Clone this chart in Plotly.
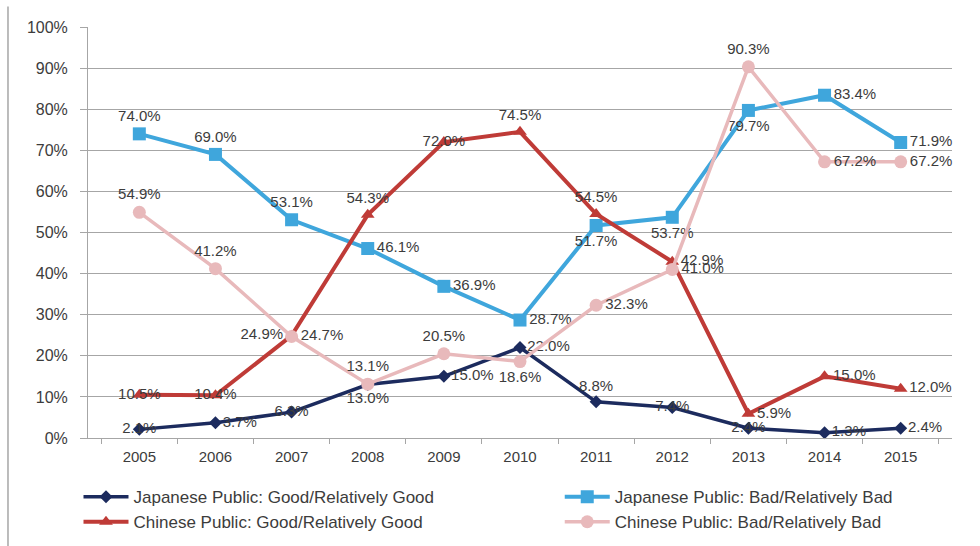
import plotly.graph_objects as go

years = ["2005", "2006", "2007", "2008", "2009", "2010", "2011", "2012", "2013", "2014", "2015"]

jp_good = [2.1, 3.7, 6.3, 13.0, 15.0, 22.0, 8.8, 7.4, 2.4, 1.3, 2.4]
jp_bad = [74.0, 69.0, 53.1, 46.1, 36.9, 28.7, 51.7, 53.7, 79.7, 83.4, 71.9]
cn_good = [10.5, 10.4, 24.9, 54.3, 72.0, 74.5, 54.5, 42.9, 5.9, 15.0, 12.0]
cn_bad = [54.9, 41.2, 24.7, 13.1, 20.5, 18.6, 32.3, 41.0, 90.3, 67.2, 67.2]

names = [
    "Japanese Public: Good/Relatively Good",
    "Japanese Public: Bad/Relatively Bad",
    "Chinese Public: Good/Relatively Good",
    "Chinese Public: Bad/Relatively Bad",
]

# label placement for each point, per series
pos_jp_good = ["middle center", "middle right", "middle center", "bottom center", "middle right",
               "middle right", "top center", "middle center", "middle center", "middle right", "middle right"]
pos_jp_bad = ["top center", "top center", "top center", "middle right", "middle right",
              "middle right", "bottom center", "bottom center", "bottom center", "middle right", "middle right"]
pos_cn_good = ["middle center", "middle center", "middle left", "top center", "middle center",
               "top center", "top center", "middle right", "middle right", "middle right", "middle right"]
pos_cn_bad = ["top center", "top center", "middle right", "top center", "top center",
              "bottom center", "middle right", "middle right", "top center", "middle right", "middle right"]

NAVY = "#1c2b5e"
SKY = "#3fa6dc"
RED = "#bf3b37"
PINK = "#e8b9bb"
TEXT = "#3c3c3c"
GRID = "#a6a6a6"
FONT = "Liberation Sans, Arial, sans-serif"

series = [
    (jp_good, names[0], NAVY, "diamond", 10, pos_jp_good, "legend", 3.5),
    (jp_bad, names[1], SKY, "square", 13, pos_jp_bad, "legend2", 4),
    (cn_good, names[2], RED, "triangle-up", 12, pos_cn_good, "legend", 4),
    (cn_bad, names[3], PINK, "circle", 13, pos_cn_bad, "legend2", 3.5),
]

fig = go.Figure()
for i, (vals, name, color, symbol, size, pos, leg, lw) in enumerate(series):
    fig.add_trace(go.Scatter(
        x=years, y=vals, name=name, mode="lines+markers+text",
        line=dict(color=color, width=lw),
        marker=dict(color=color, symbol=symbol, size=size),
        text=[f"{v:.1f}%" for v in vals],
        textposition=pos,
        textfont=dict(family=FONT, size=15, color=TEXT),
        cliponaxis=False,
        legend=leg, legendgroup=f"g{i}",
    ))

legend_common = dict(
    orientation="v", xanchor="left", yanchor="top",
    font=dict(family=FONT, size=17, color=TEXT),
    tracegroupgap=0, itemwidth=45, bgcolor="rgba(0,0,0,0)",
)

fig.update_layout(
    width=980, height=546,
    margin=dict(l=88, r=28, t=27, b=108, autoexpand=False),
    paper_bgcolor="white", plot_bgcolor="white",
    font=dict(family=FONT, color=TEXT),
    showlegend=True,
    legend=dict(x=-0.011, y=-0.1, **legend_common),
    legend2=dict(x=0.546, y=-0.1, **legend_common),
    xaxis=dict(
        type="category", showgrid=False, showline=True, linecolor=GRID, linewidth=1,
        ticks="outside", tickson="boundaries", ticklen=5, tickcolor=GRID,
        tickfont=dict(family=FONT, size=15, color=TEXT),
        ticklabelstandoff=5,
    ),
    yaxis=dict(
        range=[0, 100], dtick=10, ticksuffix="%",
        showgrid=True, gridcolor=GRID, gridwidth=1,
        showline=True, linecolor=GRID, linewidth=1,
        ticks="outside", ticklen=7, tickcolor=GRID,
        tickfont=dict(family=FONT, size=16, color=TEXT),
        ticklabelstandoff=9, zeroline=False,
    ),
    shapes=[dict(type="line", xref="paper", yref="paper", x0=-0.0926, x1=-0.0926,
                 y0=-0.27, y1=1.05, line=dict(color=GRID, width=1.5))],
)

fig.write_html("out.html")
